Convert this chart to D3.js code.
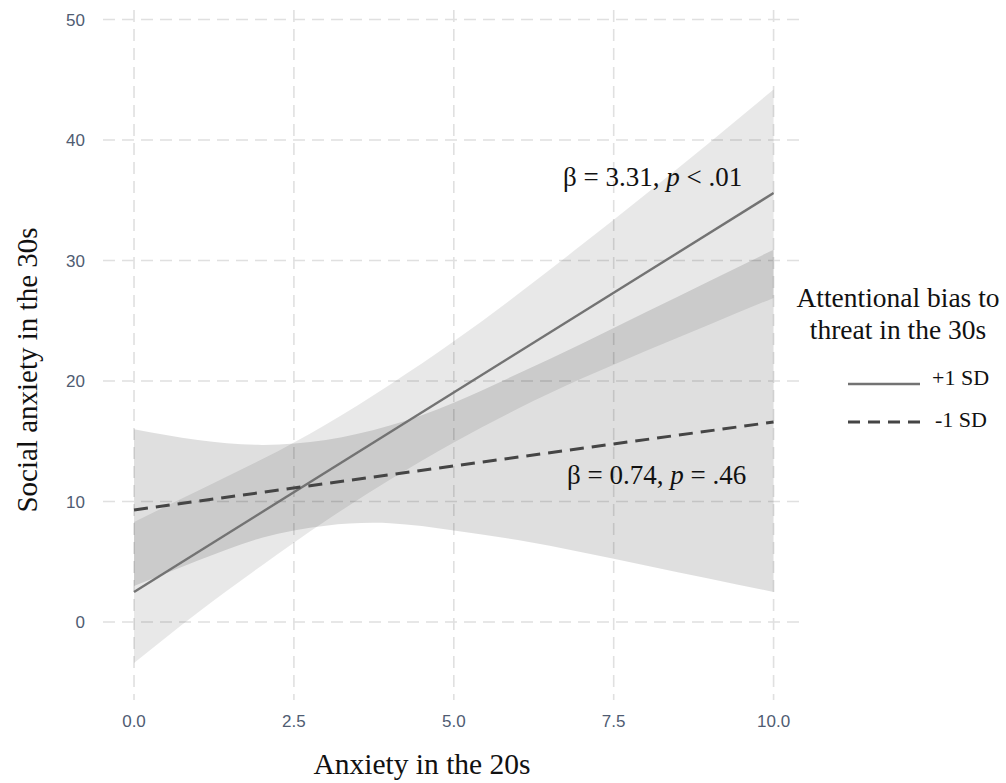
<!DOCTYPE html>
<html>
<head>
<meta charset="utf-8">
<script src="https://cdn.jsdelivr.net/npm/d3@7"></script>
<style>
  html, body { margin: 0; padding: 0; background: #fff; }
  svg { display: block; }
</style>
</head>
<body>
<svg id="chart" width="1006" height="783"></svg>
<script>
// ---- data ----
const xTicks = [0, 2.5, 5, 7.5, 10];
const xTickLabels = ["0.0", "2.5", "5.0", "7.5", "10.0"];
const yTicks = [0, 10, 20, 30, 40, 50];
const yTickLabels = ["0", "10", "20", "30", "40", "50"];

const bandX = [0, 1, 2, 3, 4, 5, 6, 7, 8, 9, 10];
// +1 SD attentional bias: confidence band
const highUpper = [8.3, 10.9, 13.5, 16.4, 19.7, 23.3, 27.2, 31.3, 35.5, 39.8, 44.2];
const highLower = [-3.4, 0.8, 4.7, 8.4, 11.8, 14.9, 17.7, 20.2, 22.5, 24.7, 26.9];
// -1 SD attentional bias: confidence band
const lowUpper = [16.0, 15.1, 14.7, 15.1, 16.3, 18.2, 20.6, 23.1, 25.7, 28.3, 30.9];
const lowLower = [3.0, 5.1, 7.0, 8.0, 8.2, 7.6, 6.8, 5.8, 4.7, 3.6, 2.5];

const lineX = [0, 10];
const highLine = [2.5, 35.6];   // +1 SD fitted line
const lowLine = [9.3, 16.6];    // -1 SD fitted line

const legendTitle = ["Attentional bias to", "threat in the 30s"];
const legendLabels = ["+1 SD", "-1 SD"];

// ---- layout ----
const svg = d3.select("#chart");
const panel = { left: 103, right: 803, top: 10, bottom: 700 };

const x = d3.scaleLinear().domain([-0.485, 10.46]).range([panel.left, panel.right]);
const y = d3.scaleLinear().domain([-6.47, 50.79]).range([panel.bottom, panel.top]);

// grid
const grid = svg.append("g");
grid.selectAll("line.h").data(yTicks).enter().append("line")
  .attr("x1", panel.left).attr("x2", panel.right)
  .attr("y1", d => y(d)).attr("y2", d => y(d))
  .attr("stroke", "#e0e0e0").attr("stroke-width", 1.6)
  .attr("stroke-dasharray", "12,7");
grid.selectAll("line.v").data(xTicks).enter().append("line")
  .attr("y1", panel.top).attr("y2", panel.bottom)
  .attr("x1", d => x(d)).attr("x2", d => x(d))
  .attr("stroke", "#e0e0e0").attr("stroke-width", 1.6)
  .attr("stroke-dasharray", "12,7");

// bands
const area = (up, lo) => d3.area()
  .x((d, i) => x(bandX[i]))
  .y0((d, i) => y(lo[i]))
  .y1((d, i) => y(up[i]))
  .curve(d3.curveNatural)(bandX);

svg.append("path").attr("d", area(highUpper, highLower))
  .attr("fill", "#000").attr("fill-opacity", 0.09);
svg.append("path").attr("d", area(lowUpper, lowLower))
  .attr("fill", "#000").attr("fill-opacity", 0.125);

// lines
const line = vals => d3.line().x((d, i) => x(lineX[i])).y((d, i) => y(vals[i]))(lineX);
svg.append("path").attr("d", line(highLine))
  .attr("fill", "none").attr("stroke", "#737373").attr("stroke-width", 2.4);
svg.append("path").attr("d", line(lowLine))
  .attr("fill", "none").attr("stroke", "#454545").attr("stroke-width", 3)
  .attr("stroke-dasharray", "14,8");

// axis tick labels
const tickFont = "'Liberation Sans', Arial, sans-serif";
svg.append("g").selectAll("text").data(yTicks).enter().append("text")
  .attr("x", 85).attr("y", d => y(d)).attr("dy", "0.36em")
  .attr("text-anchor", "end")
  .attr("font-family", tickFont).attr("font-size", 17).attr("fill", "#4f5c72")
  .text((d, i) => yTickLabels[i]);
svg.append("g").selectAll("text").data(xTicks).enter().append("text")
  .attr("x", d => x(d)).attr("y", 727)
  .attr("text-anchor", "middle")
  .attr("font-family", tickFont).attr("font-size", 17).attr("fill", "#4f5c72")
  .text((d, i) => xTickLabels[i]);

// axis titles
const serif = "'Liberation Serif', 'Times New Roman', serif";
svg.append("text")
  .attr("x", 422).attr("y", 774).attr("text-anchor", "middle")
  .attr("font-family", serif).attr("font-size", 29.5).attr("fill", "#111")
  .text("Anxiety in the 20s");
svg.append("text")
  .attr("transform", "translate(37,370) rotate(-90)").attr("text-anchor", "middle")
  .attr("font-family", serif).attr("font-size", 29).attr("fill", "#111")
  .text("Social anxiety in the 30s");

// annotations
function annot(xp, yp, beta, pRel, pVal) {
  const t = svg.append("text").attr("x", xp).attr("y", yp)
    .attr("font-family", serif).attr("font-size", 27).attr("fill", "#111");
  t.append("tspan").text("β = " + beta + ", ");
  t.append("tspan").attr("font-style", "italic").text("p");
  t.append("tspan").text(" " + pRel + " " + pVal);
}
annot(563, 186, "3.31", "<", ".01");
annot(567, 484, "0.74", "=", ".46");

// legend
svg.append("g").selectAll("text").data(legendTitle).enter().append("text")
  .attr("x", 898).attr("y", (d, i) => 307 + i * 32)
  .attr("text-anchor", "middle")
  .attr("font-family", serif).attr("font-size", 27.5).attr("fill", "#111")
  .text(d => d);

svg.append("line").attr("x1", 848).attr("x2", 920).attr("y1", 384).attr("y2", 384)
  .attr("stroke", "#737373").attr("stroke-width", 2.4);
svg.append("line").attr("x1", 848).attr("x2", 920).attr("y1", 422).attr("y2", 422)
  .attr("stroke", "#454545").attr("stroke-width", 3).attr("stroke-dasharray", "12,8");
svg.append("g").selectAll("text").data(legendLabels).enter().append("text")
  .attr("x", (d, i) => i === 0 ? 932 : 935).attr("y", (d, i) => 385 + i * 42)
  .attr("font-family", serif).attr("font-size", 22).attr("fill", "#111")
  .text(d => d);
</script>
</body>
</html>
